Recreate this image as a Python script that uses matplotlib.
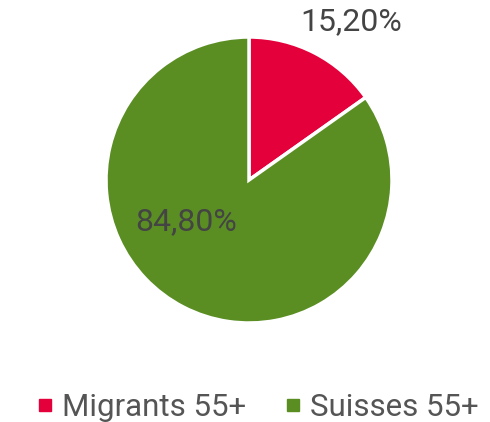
import matplotlib.pyplot as plt
from matplotlib.lines import Line2D

labels = ['Migrants 55+', 'Suisses 55+']
values = [15.20, 84.80]
colors = ['#E4003A', '#5A8E23']
label_pos = [(0.713, 1.105), (-0.44, -0.294)]

plt.rcParams['font.family'] = ['Roboto', 'DejaVu Sans']

fig = plt.figure(figsize=(4.9, 4.22), dpi=100)
ax = fig.add_axes([106 / 490, 99 / 422, 286 / 490, 286 / 422])

wedges, texts, autotexts = ax.pie(
    values, colors=colors, startangle=90, counterclock=False,
    autopct=lambda p: f'{p:.2f}%'.replace('.', ','),
    wedgeprops=dict(edgecolor='white', linewidth=2.5),
    textprops=dict(color='#444444', fontsize=23))
for t, pos in zip(autotexts, label_pos):
    t.set_position(pos)
    t.set_clip_on(False)
ax.set_xlim(-1, 1)
ax.set_ylim(-1, 1)
ax.set_aspect('equal')

handles = [Line2D([], [], marker='s', linestyle='none', markersize=8,
                  markerfacecolor=c, markeredgecolor=c) for c in colors]
fig.legend(handles, labels, loc='center', bbox_to_anchor=(0.522, 0.035),
           ncol=2, frameon=False, fontsize=22.5, labelcolor='#555555',
           handletextpad=0.15, columnspacing=1.1, handlelength=0.8)

fig.savefig('out.png', dpi=100)
